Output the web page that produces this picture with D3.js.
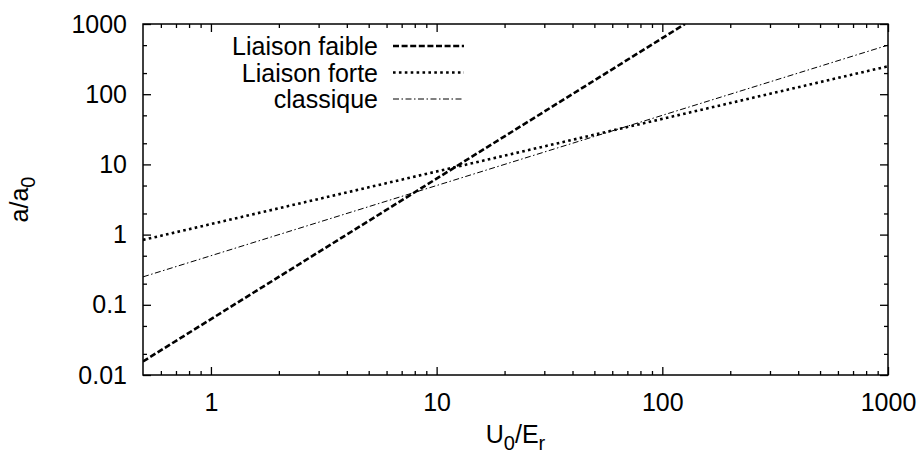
<!DOCTYPE html>
<html>
<head>
<meta charset="utf-8">
<script src="https://cdn.jsdelivr.net/npm/d3@7"></script>
<style>
  body { margin: 0; background: #fff; }
  text { font-family: "Liberation Sans", Arial, sans-serif; fill: #000; }
</style>
</head>
<body>
<svg id="chart"></svg>
<script>
const svgWidth = 922;
const svgHeight = 454;

// data (log-log straight lines, endpoints)
const seriesNames = ["Liaison faible", "Liaison forte", "classique"];
const faibleX = [0.5, 126];
const faibleY = [0.0156, 1000];
const forteX = [0.5, 1000];
const forteY = [0.84, 250];
const classiqueX = [0.5, 1000];
const classiqueY = [0.25, 500];

const xTicks = [1, 10, 100, 1000];
const xTickLabels = ["1", "10", "100", "1000"];
const yTicks = [0.01, 0.1, 1, 10, 100, 1000];
const yTickLabels = ["0.01", "0.1", "1", "10", "100", "1000"];
const xMinorMant = [2, 3, 4, 5, 6, 7, 8, 9];
const yMinorMant = [2, 5];

const fontSize = 25;

const margin = {left: 143, right: 922 - 888, top: 24, bottom: 454 - 375};
const w = svgWidth - margin.left - margin.right;
const h = svgHeight - margin.top - margin.bottom;

const svg = d3.select("#chart")
    .attr("width", svgWidth)
    .attr("height", svgHeight);

const x = d3.scaleLog().domain([0.5, 1000]).range([0, w]);
const y = d3.scaleLog().domain([0.01, 1000]).range([h, 0]);

const g = svg.append("g")
    .attr("transform", `translate(${margin.left},${margin.top})`);

// minor tick positions
const xMinor = [0.6, 0.7, 0.8, 0.9];
[1, 10, 100].forEach(d => xMinorMant.forEach(m => xMinor.push(d * m)));
const yMinor = [];
[0.01, 0.1, 1, 10, 100].forEach(d => yMinorMant.forEach(m => yMinor.push(d * m)));

function styleAxis(sel) {
  sel.select(".domain").remove();
  sel.selectAll(".tick line").attr("stroke", "#000").attr("stroke-width", 1.3);
}

// major ticks (inward, mirrored)
g.append("g")
    .attr("transform", `translate(0,${h})`)
    .call(d3.axisBottom(x).tickValues(xTicks).tickSize(-8).tickPadding(18)
      .tickFormat((d, i) => xTickLabels[i]))
    .call(styleAxis)
    .selectAll("text").attr("font-size", fontSize);
g.append("g")
    .call(d3.axisTop(x).tickValues(xTicks).tickSize(-8).tickFormat(""))
    .call(styleAxis);
g.append("g")
    .call(d3.axisLeft(y).tickValues(yTicks).tickSize(-8).tickPadding(16)
      .tickFormat((d, i) => yTickLabels[i]))
    .call(styleAxis)
    .selectAll("text").attr("font-size", fontSize);
g.append("g")
    .attr("transform", `translate(${w},0)`)
    .call(d3.axisRight(y).tickValues(yTicks).tickSize(-8).tickFormat(""))
    .call(styleAxis);

// minor ticks
g.append("g").attr("transform", `translate(0,${h})`)
    .call(d3.axisBottom(x).tickValues(xMinor).tickSize(-4).tickFormat(""))
    .call(styleAxis);
g.append("g")
    .call(d3.axisTop(x).tickValues(xMinor).tickSize(-4).tickFormat(""))
    .call(styleAxis);
g.append("g")
    .call(d3.axisLeft(y).tickValues(yMinor).tickSize(-4).tickFormat(""))
    .call(styleAxis);
g.append("g").attr("transform", `translate(${w},0)`)
    .call(d3.axisRight(y).tickValues(yMinor).tickSize(-4).tickFormat(""))
    .call(styleAxis);

// frame
g.append("rect")
    .attr("width", w)
    .attr("height", h)
    .attr("fill", "none")
    .attr("stroke", "#000")
    .attr("stroke-width", 1.5);

svg.append("clipPath").attr("id", "clip")
  .append("rect").attr("width", w).attr("height", h);

const styles = [
  {width: 2.6, dash: "6,2.6"},
  {width: 2.6, dash: "2.6,3.3"},
  {width: 1, dash: "6,2.5,1.5,2.5"}
];

const series = [
  {name: seriesNames[0], xs: faibleX, ys: faibleY},
  {name: seriesNames[1], xs: forteX, ys: forteY},
  {name: seriesNames[2], xs: classiqueX, ys: classiqueY}
];

const line = d3.line()
    .x(d => x(d[0]))
    .y(d => y(d[1]));

const plot = g.append("g").attr("clip-path", "url(#clip)");
plot.selectAll(".curve")
    .data(series)
    .enter()
    .append("path")
    .attr("class", "curve")
    .attr("d", d => line(d.xs.map((v, i) => [v, d.ys[i]])))
    .attr("fill", "none")
    .attr("stroke", "#000")
    .attr("stroke-width", (d, i) => styles[i].width)
    .attr("stroke-dasharray", (d, i) => styles[i].dash);

// legend
const legend = svg.append("g");
series.forEach((s, i) => {
  const ly = 46 + i * 26.5;
  legend.append("text")
      .attr("x", 378)
      .attr("y", ly + 9)
      .attr("text-anchor", "end")
      .attr("font-size", fontSize)
      .text(s.name);
  legend.append("line")
      .attr("x1", 393).attr("x2", 464)
      .attr("y1", ly).attr("y2", ly)
      .attr("stroke", "#000")
      .attr("stroke-width", styles[i].width)
      .attr("stroke-dasharray", styles[i].dash);
});

// axis titles
const xt = svg.append("text")
    .attr("x", margin.left + w / 2)
    .attr("y", 443)
    .attr("text-anchor", "middle")
    .attr("font-size", fontSize);
xt.append("tspan").text("U");
xt.append("tspan").attr("dy", 7).attr("font-size", 20).text("0");
xt.append("tspan").attr("dy", -7).text("/E");
xt.append("tspan").attr("dy", 7).attr("font-size", 20).text("r");

const yt = svg.append("text")
    .attr("transform", `translate(28,${margin.top + h / 2}) rotate(-90)`)
    .attr("text-anchor", "middle")
    .attr("font-size", fontSize);
yt.append("tspan").text("a/a");
yt.append("tspan").attr("dy", 7).attr("font-size", 20).text("0");
</script>
</body>
</html>
